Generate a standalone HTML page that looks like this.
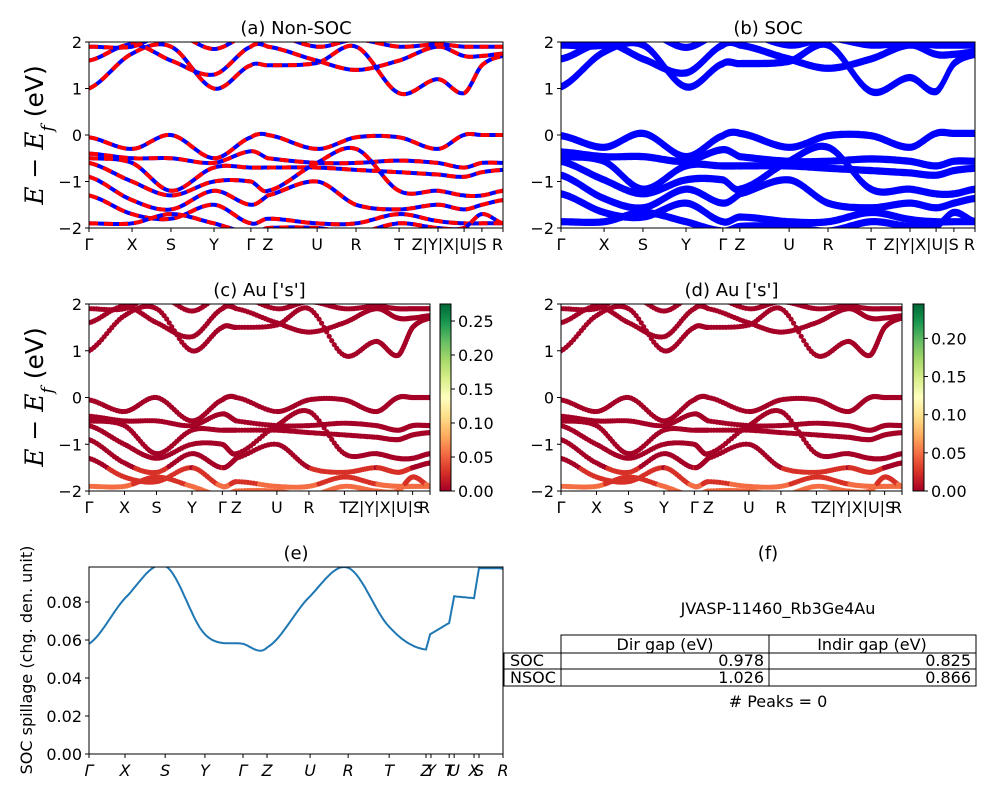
<!DOCTYPE html>
<html><head><meta charset="utf-8">
<style>
body{margin:0;background:#fff;}
svg{display:block;font-family:"DejaVu Sans","Liberation Sans",sans-serif;}
</style></head>
<body>
<svg id="fig" width="1000" height="800" viewBox="0 0 1000 800" xmlns="http://www.w3.org/2000/svg">
<defs>
<linearGradient id="rdylgn" x1="0" y1="1" x2="0" y2="0">
<stop offset="0" stop-color="#a50026"/><stop offset="0.1" stop-color="#d73027"/><stop offset="0.2" stop-color="#f46d43"/><stop offset="0.3" stop-color="#fdae61"/><stop offset="0.4" stop-color="#fee08b"/><stop offset="0.5" stop-color="#ffffbf"/><stop offset="0.6" stop-color="#d9ef8b"/><stop offset="0.7" stop-color="#a6d96a"/><stop offset="0.8" stop-color="#66bd63"/><stop offset="0.9" stop-color="#1a9850"/><stop offset="1" stop-color="#006837"/>
</linearGradient>
</defs>
</svg>
<script>
// ---- data ----
const kNodes=[0,0.104,0.198,0.302,0.391,0.432,0.551,0.645,0.749,0.843,0.906,0.949,1];
const kLabels=["Γ","X","S","Y","Γ","Z","U","R","T","","","",""];
const bandC1=[1.0,1.75,1.9,1.0,1.5,1.5,1.55,1.9,0.9,1.2,0.9,1.5,1.7];
const bandC2=[1.6,1.95,1.6,1.3,1.9,1.9,1.6,1.4,1.6,1.9,1.7,1.7,1.75];
const bandC3=[1.9,1.9,2.2,1.85,2.2,2.2,1.9,2.05,1.9,1.95,1.9,1.9,1.9];
const bandV1=[-0.05,-0.3,0.0,-0.5,-0.05,0.0,-0.3,-0.05,-0.05,-0.3,0.0,0.0,0.0];
const bandV2=[-0.4,-0.5,-0.5,-0.6,-0.35,-0.5,-0.6,-0.6,-0.55,-0.6,-0.7,-0.6,-0.6];
const bandV3=[-0.5,-0.6,-1.2,-0.7,-0.7,-0.7,-0.7,-0.75,-0.8,-0.85,-0.9,-0.8,-0.75];
const bandV4=[-0.6,-1.0,-1.3,-1.0,-1.0,-1.2,-0.6,-0.3,-1.2,-1.2,-1.3,-1.3,-1.2];
const bandV5=[-0.9,-1.4,-1.6,-1.2,-1.5,-1.3,-1.0,-1.5,-1.6,-1.5,-1.6,-1.5,-1.4];
const bandV6=[-1.3,-1.7,-1.8,-1.5,-1.9,-1.8,-1.9,-1.9,-1.7,-1.85,-1.9,-1.9,-1.9];
const bandV7=[-1.9,-1.9,-1.7,-1.9,-2.1,-2.0,-2.0,-2.1,-1.9,-2.0,-2.0,-1.7,-1.9];
const bands=[bandC1,bandC2,bandC3,bandV1,bandV2,bandV3,bandV4,bandV5,bandV6,bandV7];
const spillK=[0,0.087,0.184,0.280,0.372,0.430,0.534,0.626,0.725,0.814,0.824,0.870,0.882,0.930,0.942,0.99,1];
const spillV=[0.058,0.082,0.099,0.063,0.058,0.056,0.083,0.098,0.067,0.055,0.063,0.069,0.083,0.082,0.0978,0.0978,0.0975];
const yTicks=[-2,-1,0,1,2];
const spillTicks=[0.00,0.02,0.04,0.06,0.08];
const cb1Ticks=[0,0.05,0.10,0.15,0.20,0.25];const cb1Max=0.275;
const cb2Ticks=[0,0.05,0.10,0.15,0.20];const cb2Max=0.245;
const eLabels=["Γ","X","S","Y","Γ","Z","U","R","T","Z","Y","T","U","X","S","R"];
const eLabelK=[0,0.087,0.184,0.280,0.372,0.430,0.534,0.626,0.725,0.814,0.826,0.870,0.882,0.930,0.942,1];

const NS="http://www.w3.org/2000/svg";
const svg=document.getElementById('fig');
function el(t,a,p){const e=document.createElementNS(NS,t);for(const k in a)e.setAttribute(k,a[k]);(p||svg).appendChild(e);return e;}
function txt(x,y,s,a,p){const e=el('text',Object.assign({x:x,y:y,'font-size':16,fill:'#000'},a||{}),p);e.textContent=s;return e;}
function interp(xs,ys,n,linFrom){
  const out=[];
  for(let i=0;i<xs.length-1;i++){
    const y0=ys[Math.max(0,i-1)],y1=ys[i],y2=ys[i+1],y3=ys[Math.min(ys.length-1,i+2)];
    const lin=(linFrom!==undefined && i>=linFrom);
    for(let j=0;j<n;j++){const t=j/n;
      const y=lin? y1+(y2-y1)*t : 0.5*((2*y1)+(-y0+y2)*t+(2*y0-5*y1+4*y2-y3)*t*t+(-y0+3*y1-3*y2+y3)*t*t*t);
      out.push([xs[i]+(xs[i+1]-xs[i])*t,y]);}
  }
  out.push([xs[xs.length-1],ys[ys.length-1]]);return out;
}
function bandPanel(name,x0,x1,y0,y1,title,mode,xl){
  const g=el('g',{});
  
  
  const cid='clip'+name;
  const cp=el('clipPath',{id:cid},g);el('rect',{x:x0,y:y0,width:x1-x0,height:y1-y0},cp);
  const sx=k=>x0+k*(x1-x0), sy=v=>y1-(v+2)/4*(y1-y0);
  const pg=el('g',{'clip-path':'url(#'+cid+')'},g);
  bands.forEach((b,bi)=>{
    const pts=interp(kNodes,b,20);
    const d=pts.map((p,i)=>(i?'L':'M')+sx(p[0]).toFixed(1)+','+sy(p[1]).toFixed(1)).join('');
    if(mode==='a'){
      const l1=el('path',{d:d,fill:'none',stroke:'#0000ff','stroke-width':4},pg);
      
      const l2=el('path',{d:d,fill:'none',stroke:'#ff0000','stroke-width':4,'stroke-dasharray':'9,6'},pg);
      
    }else if(mode==='b'){
      const d2=pts.map((p,i)=>(i?'L':'M')+sx(p[0]).toFixed(1)+','+sy(p[1]+0.07).toFixed(1)).join('');
      [d,d2].forEach(dd=>{const l=el('path',{d:dd,fill:'none',stroke:'#0000ff','stroke-width':4},pg);
        });
    }else{
      const pts2=interp(kNodes,b,14);
      pts2.forEach(p=>{
        const col=p[1]<-1.85?'#f46d43':(p[1]<-1.5?'#d73027':'#a50026');
        const c=el('circle',{cx:sx(p[0]).toFixed(1),cy:sy(p[1]).toFixed(1),r:2.6,fill:col},pg);
        
      });
    }
  });
  el('rect',{x:x0,y:y0,width:x1-x0,height:y1-y0,fill:'none',stroke:'#000','stroke-width':1},g);
  yTicks.forEach(v=>{el('line',{x1:x0-4,x2:x0,y1:sy(v),y2:sy(v),stroke:'#000'},g);
    txt(x0-7,sy(v)+6,String(v).replace('-','−'),{'text-anchor':'end'},g);});
  kNodes.forEach((k,i)=>{el('line',{x1:sx(k),x2:sx(k),y1:y1,y2:y1+4,stroke:'#000'},g);
    if(kLabels[i])txt(sx(k),y1+22,kLabels[i],{'text-anchor':'middle'},g);});
  txt(sx(0.87),y1+22,xl,{'text-anchor':'middle'},g);
  txt(x1,y1+22,'R',{'text-anchor':'end'},g);
  const t=txt((x0+x1)/2,y0-8,title,{'text-anchor':'middle','font-size':18},g);
  
  return {sy:sy};
}
function ylabel(x,y,name){
  const t=el('text',{x:0,y:0,'font-size':25,transform:'translate('+x+','+y+') rotate(-90)','text-anchor':'middle','font-family':'"DejaVu Serif","Liberation Serif",serif','font-style':'italic'});
  
  t.innerHTML='E − E<tspan baseline-shift="sub" font-size="17">f</tspan><tspan font-style="normal" font-family="DejaVu Sans,sans-serif"> (eV)</tspan>';
}
bandPanel('panel-a-nonsoc',89,503,42,228,'(a) Non-SOC','a','Z|Y|X|U|S');
bandPanel('panel-b-soc',561,975,42,228,'(b) SOC','b','Z|Y|X|U|S');
bandPanel('panel-c-au-s',89,430,304,491,"(c)  Au ['s']",'c','Z|Y|X|U|S');
bandPanel('panel-d-au-s',561,902,304,491,"(d) Au ['s']",'c','Z|Y|X|U|S');
ylabel(43,135,'y-axis-title-top');
ylabel(43,397,'y-axis-title-mid');
function colorbar(name,x,ticks,max){
  const g=el('g',{});
  el('rect',{x:x,y:304,width:11,height:187,fill:'url(#rdylgn)',stroke:'#000','stroke-width':1},g);
  ticks.forEach(v=>{const y=491-v/max*187;el('line',{x1:x+11,x2:x+15,y1:y,y2:y,stroke:'#000'},g);
    txt(x+18,y+6,v.toFixed(2),{},g);});
}
colorbar('colorbar-c',440,cb1Ticks,cb1Max);
colorbar('colorbar-d',913,cb2Ticks,cb2Max);
// panel e
(function(){
  const x0=89,x1=503,y0=567,y1=754;
  const g=el('g',{});
  const sx=k=>x0+k*(x1-x0), sy=v=>y1-v/0.02*38;
  const pts=interp(spillK,spillV,15,9);
  const cp=el('clipPath',{id:'clipe'},g);el('rect',{x:x0,y:y0,width:x1-x0,height:y1-y0},cp);
  const l=el('path',{d:pts.map((p,i)=>(i?'L':'M')+sx(p[0]).toFixed(1)+','+sy(p[1]).toFixed(1)).join(''),fill:'none',stroke:'#1f77b4','stroke-width':2,'clip-path':'url(#clipe)'},g);
  
  el('rect',{x:x0,y:y0,width:x1-x0,height:y1-y0,fill:'none',stroke:'#000'},g);
  spillTicks.forEach(v=>{el('line',{x1:x0-4,x2:x0,y1:sy(v),y2:sy(v),stroke:'#000'},g);txt(x0-7,sy(v)+6,v.toFixed(2),{'text-anchor':'end'},g);});
  eLabelK.forEach((k,i)=>{el('line',{x1:sx(k),x2:sx(k),y1:y1,y2:y1+4,stroke:'#000'},g);
    txt(sx(k),y1+22,eLabels[i],{'text-anchor':'middle','font-style':'italic'},g);});
  txt(296,559,'(e)',{'text-anchor':'middle','font-size':18},g);
  const yl=el('text',{x:0,y:0,'font-size':16,transform:'translate(32,660) rotate(-90)','text-anchor':'middle'},g);
  yl.textContent='SOC spillage (chg. den. unit)';
  
})();
// panel f
(function(){
  const g=el('g',{});
  txt(768,559,'(f)',{'text-anchor':'middle','font-size':18},g);
  txt(778,614,'JVASP-11460_Rb3Ge4Au',{'text-anchor':'middle'},g);
  el('rect',{x:561,y:635,width:415,height:51,fill:'none',stroke:'#000'},g);
  el('rect',{x:504,y:653,width:57,height:33,fill:'none',stroke:'#000'},g);
  el('line',{x1:504,x2:976,y1:653,y2:653,stroke:'#000'},g);
  el('line',{x1:504,x2:976,y1:669,y2:669,stroke:'#000'},g);
  el('line',{x1:769,x2:769,y1:635,y2:686,stroke:'#000'},g);
  txt(665,650,'Dir gap (eV)',{'text-anchor':'middle'},g);
  txt(872,650,'Indir gap (eV)',{'text-anchor':'middle'},g);
  txt(510,666,'SOC',{},g);txt(510,683,'NSOC',{},g);
  txt(764,666,'0.978',{'text-anchor':'end'},g);txt(971,666,'0.825',{'text-anchor':'end'},g);
  txt(764,683,'1.026',{'text-anchor':'end'},g);txt(971,683,'0.866',{'text-anchor':'end'},g);
  txt(778,707,'# Peaks = 0',{'text-anchor':'middle'},g);
})();
</script>
</body></html>
